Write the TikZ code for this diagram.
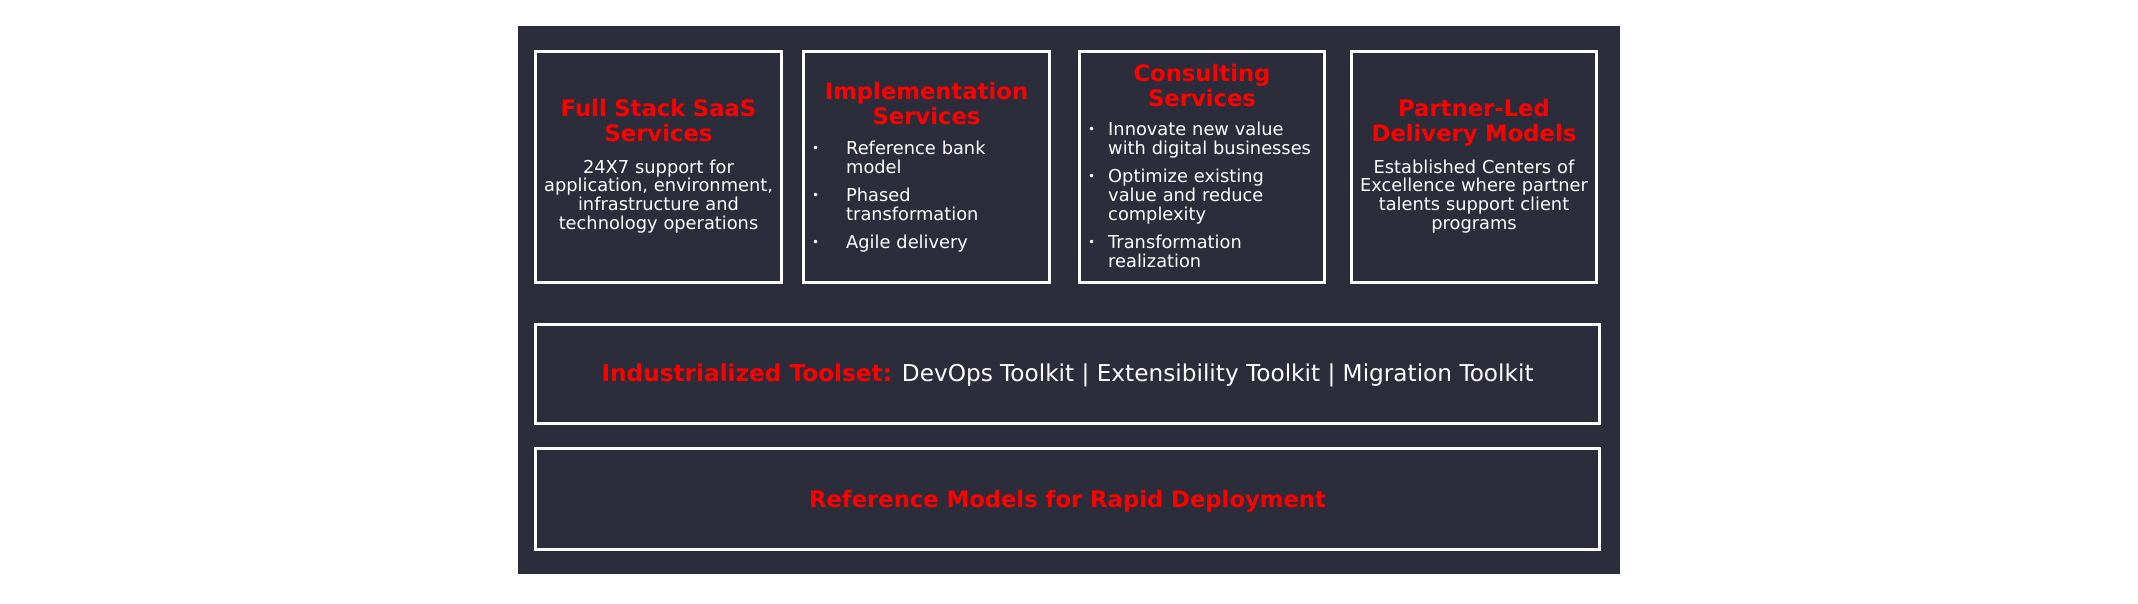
\documentclass[tikz,border=0pt]{standalone}
\usepackage{fontspec}
\setmainfont{DejaVu Sans}
\definecolor{panel}{RGB}{43,46,58}
\definecolor{hred}{RGB}{255,0,0}
\hyphenpenalty=10000
\tikzset{
  panelbox/.style={fill=panel, draw=none, inner sep=0pt, rectangle},
  card/.style={draw=white, line width=3pt, fill=panel, inner sep=0pt, rectangle},
  ttl/.style={font=\fontsize{22.7}{25}\selectfont\bfseries, text=hred, inner sep=0pt, text width=240pt, align=center, anchor=base},
  body/.style={font=\fontsize{17.8}{18.7}\selectfont, text=white, inner sep=0pt, text width=240pt, align=center, anchor=base},
  blt/.style={font=\fontsize{12}{14}\selectfont, text=white, inner sep=0pt, anchor=base west},
  item/.style={font=\fontsize{17.8}{18.7}\selectfont, text=white, inner sep=0pt, text width=230pt, align=left, anchor=base west},
  wide/.style={font=\fontsize{23.2}{24}\selectfont, text=white, inner sep=0pt, anchor=base}
}
\begin{document}
\begin{tikzpicture}[x=1pt,y=-1pt]
\fill[white] (0,0) rectangle (2138,604);
\useasboundingbox (0,0) rectangle (2138,604);
\node[panelbox, minimum width=1102pt, minimum height=548pt] (panel) at (1069,300) {};
% cards
\node[card, minimum width=246pt, minimum height=231pt] (b1) at (658.5,167) {};
\node[card, minimum width=246pt, minimum height=231pt] (b2) at (926.5,167) {};
\node[card, minimum width=245pt, minimum height=231pt] (b3) at (1202,167) {};
\node[card, minimum width=245pt, minimum height=231pt] (b4) at (1474,167) {};
\node[card, minimum width=1064pt, minimum height=99pt] (w1) at (1067.5,374) {};
\node[card, minimum width=1064pt, minimum height=101pt] (w2) at (1067.5,499) {};
% box 1
\node[ttl] (t1) at (658.5,117) {Full Stack SaaS\\Services};
\node[body] (d1) at (658.5,173.3) {24X7 support for\\application, environment,\\infrastructure and\\technology operations};
% box 2
\node[ttl] (t2) at (926.5,100) {Implementation\\Services};
\node[blt] (p21) at (812,153) {•};
\node[item] (i21) at (846,155) {Reference bank\\model};
\node[blt] (p22) at (812,200) {•};
\node[item] (i22) at (846,202) {Phased\\transformation};
\node[blt] (p23) at (812,246) {•};
\node[item] (i23) at (846,248) {Agile delivery};
% box 3
\node[ttl] (t3) at (1202,82) {Consulting\\Services};
\node[blt] (p31) at (1088,134) {•};
\node[item] (i31) at (1108,136) {Innovate new value\\with digital businesses};
\node[blt] (p32) at (1088,180.7) {•};
\node[item] (i32) at (1108,182.7) {Optimize existing\\value and reduce\\complexity};
\node[blt] (p33) at (1088,246.3) {•};
\node[item] (i33) at (1108,248.3) {Transformation\\realization};
% box 4
\node[ttl] (t4) at (1474,117) {Partner-Led\\Delivery Models};
\node[body] (d4) at (1474,173.3) {Established Centers of\\Excellence where partner\\talents support client\\programs};
% wide boxes
\node[wide] (tw1) at (1067.5,381.7) {{\color{hred}\bfseries Industrialized Toolset:} DevOps Toolkit | Extensibility Toolkit | Migration Toolkit};
\node[wide, text=hred, font=\fontsize{22.7}{24}\selectfont\bfseries] (tw2) at (1067.5,507) {Reference Models for Rapid Deployment};
\end{tikzpicture}
\end{document}
